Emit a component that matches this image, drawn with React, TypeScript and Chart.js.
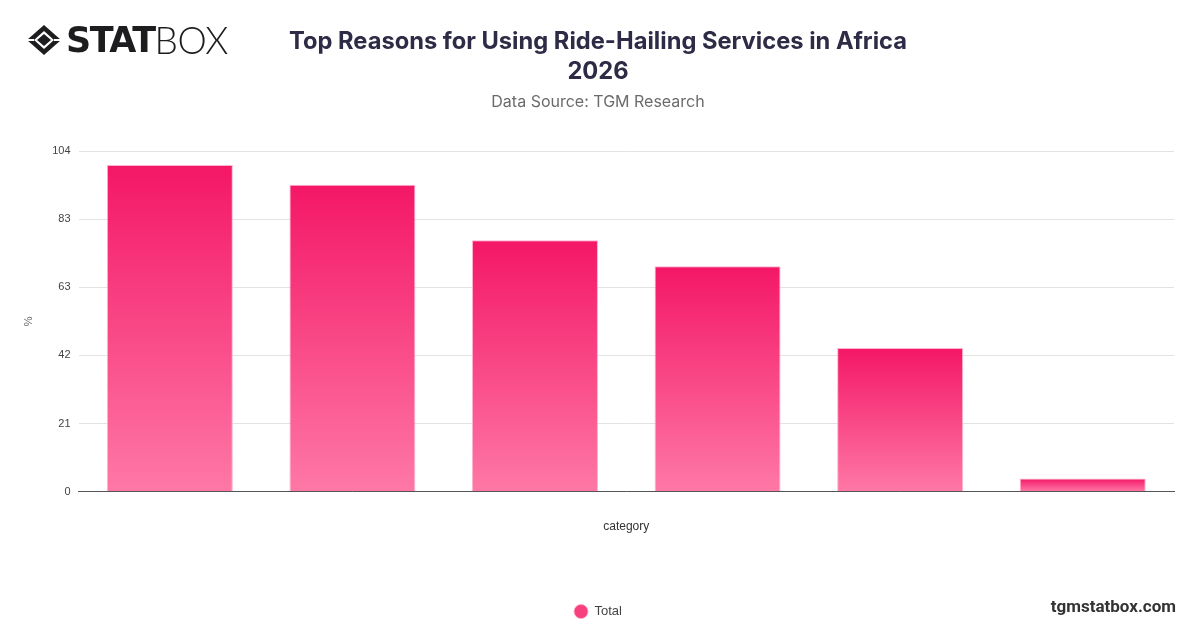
import React, { useEffect, useRef } from "react";
import { Chart, registerables } from "chart.js";

Chart.register(...registerables);

const categories = ["Convenience", "Affordability", "Safety", "Reliability", "Comfort", "Other"];
const totalValues = [100, 94, 77, 69, 44, 4];
const yTickValues = [0, 20.85, 41.7, 62.55, 83.4, 104.25];
const seriesName = "Total";
const titleLines = ["Top Reasons for Using Ride-Hailing Services in Africa", "2026"];
const subtitleText = "Data Source: TGM Research";

function barGradient(ctx: any) {
  const chart = ctx.chart;
  const y = chart.scales && chart.scales.y;
  if (!chart.chartArea || !y || ctx.type !== "data") return "#f83a7e";
  const v = ctx.raw as number;
  const top = y.getPixelForValue(v);
  const bottom = y.getPixelForValue(0);
  if (!isFinite(top) || !isFinite(bottom) || top === bottom) return "#f83a7e";
  const g = chart.ctx.createLinearGradient(0, top, 0, bottom);
  g.addColorStop(0, "#f41766");
  g.addColorStop(1, "#fe78a6");
  return g;
}

export default function App() {
  const ref = useRef<HTMLCanvasElement>(null);
  useEffect(() => {
    if (!ref.current) return;
    const chart = new Chart(ref.current, {
      type: "bar",
      data: {
        labels: categories,
        datasets: [
          {
            label: seriesName,
            data: totalValues,
            backgroundColor: barGradient as any,
            borderColor: "rgba(255,170,200,0.9)",
            borderWidth: 1,
            categoryPercentage: 0.69,
            barPercentage: 1,
          },
        ],
      },
      options: {
        animation: false,
        responsive: false,
        maintainAspectRatio: false,
        layout: { padding: { left: 22, right: 26, top: 0, bottom: 0 } },
        plugins: {
          title: {
            display: true,
            text: titleLines,
            color: "#2d2b45",
            font: { family: "Inter", size: 23.7, weight: "bold", lineHeight: 1.265 },
            padding: { top: 27, bottom: 6 },
          },
          subtitle: {
            display: true,
            text: subtitleText,
            color: "#6b6b6b",
            font: { family: "Inter", size: 16, weight: "normal", lineHeight: 1.2 },
            padding: { top: 0, bottom: 39 },
          },
          legend: {
            position: "bottom",
            labels: {
              usePointStyle: true,
              pointStyle: "circle",
              pointStyleWidth: 14,
              boxWidth: 14,
              boxHeight: 10,
              color: "#444",
              font: { family: "Liberation Sans", size: 13 },
              padding: 11,
              generateLabels: () => [
                {
                  text: seriesName,
                  fillStyle: "#f7417f",
                  strokeStyle: "rgba(255,170,200,0.9)",
                  lineWidth: 1,
                  pointStyle: "circle",
                  hidden: false,
                  datasetIndex: 0,
                  fontColor: "#444",
                },
              ],
            },
          },
          tooltip: { enabled: false },
        },
        scales: {
          x: {
            grid: { display: false, drawTicks: false },
            border: { display: true, color: "#555", width: 1 },
            ticks: { display: false },
            title: {
              display: true,
              text: "category",
              color: "#333",
              font: { family: "Liberation Sans", size: 12 },
              padding: { top: 28, bottom: 60 },
            },
          },
          y: {
            min: 0,
            max: 104.25,
            afterBuildTicks: (scale: any) => {
              scale.ticks = yTickValues.map((v) => ({ value: v }));
            },
            grid: { color: "#e2e2e2", drawTicks: false, lineWidth: 1 },
            border: { display: false },
            ticks: {
              color: "#444",
              font: { family: "Liberation Sans", size: 11 },
              padding: 8,
              callback: (v: any) => String(Math.round(Number(v))),
            },
            title: {
              display: true,
              text: "%",
              color: "#666",
              font: { family: "Liberation Sans", size: 11 },
              padding: { top: 0, bottom: 9 },
            },
          },
        },
      } as any,
    });
    return () => chart.destroy();
  }, []);

  return (
    <div style={{ position: "fixed", left: 0, top: 0, width: 1200, height: 628, background: "#fff", overflow: "hidden" }}>
      <canvas ref={ref} width={1200} height={628} style={{ position: "absolute", left: 0, top: 0, width: 1200, height: 628 }} />
      <div style={{ position: "absolute", left: 26, top: 22, height: 36, display: "flex", alignItems: "center" }}>
        <svg width="36" height="32" viewBox="0 0 36 32">
          <polygon points="18,1 35,16 18,31 1,16" fill="#1d1d1f" />
          <polygon points="18,7 28,16 18,25 8,16" fill="#fff" />
          <polygon points="18,10 25,16 18,22 11,16" fill="#1d1d1f" />
          <line x1="1" y1="16" x2="8" y2="16" stroke="#fff" strokeWidth="2" />
          <line x1="28" y1="16" x2="35" y2="16" stroke="#fff" strokeWidth="2" />
        </svg>
        <span style={{ fontFamily: "'DejaVu Sans'", fontWeight: 900, fontSize: 35, color: "#1d1d1f", marginLeft: 4, letterSpacing: -1.5, lineHeight: "36px" }}>STAT</span>
        <span style={{ fontFamily: "Lato", fontWeight: 300, fontSize: 37, color: "#1d1d1f", letterSpacing: -0.5, lineHeight: "36px" }}>BOX</span>
      </div>
      <div style={{ position: "absolute", right: 24, top: 596, fontFamily: "Roboto", fontWeight: 700, fontSize: 17, color: "#333" }}>tgmstatbox.com</div>
    </div>
  );
}
